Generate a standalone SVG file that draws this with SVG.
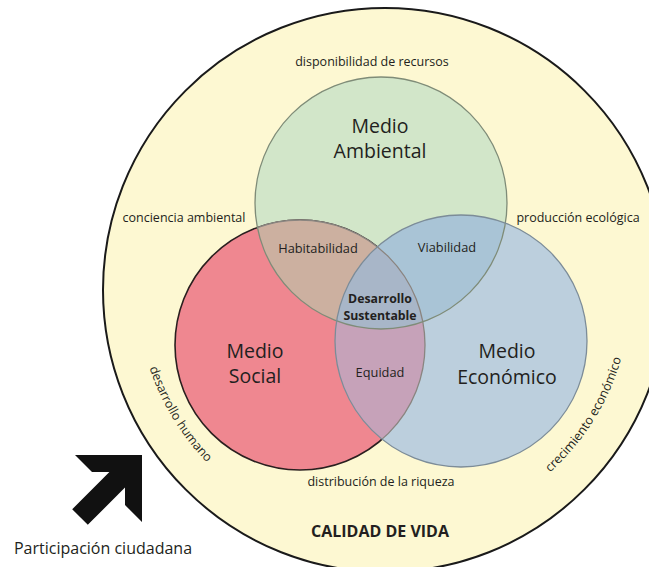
<svg xmlns="http://www.w3.org/2000/svg" width="649" height="567" viewBox="0 0 649 567">
<style>
text{font-family:"Open Sans","Noto Sans","Liberation Sans",sans-serif;fill:#231f20}
.s{font-size:12.5px}
.m{font-size:12.8px}
.big{font-size:19.5px}
.b{font-weight:bold;font-size:12.3px}
</style>
<defs>
<clipPath id="cG"><circle cx="381" cy="203" r="126"/></clipPath>
<clipPath id="cR"><circle cx="300" cy="345" r="125"/></clipPath>
<clipPath id="cB"><circle cx="461" cy="341" r="126"/></clipPath>
<clipPath id="cGB"><circle cx="381" cy="203" r="126"/><circle cx="461" cy="341" r="126"/></clipPath>
<path id="pHum" d="M137.9,311.6 A248,248 0 0 0 251.4,498.9"/>
<path id="pEco" d="M508,503 A246,246 0 0 0 630.4,307.2"/>
</defs>
<rect width="649" height="567" fill="#ffffff"/>
<g id="calidad-de-vida">
<circle cx="385" cy="290" r="282" fill="#fdf8d2" stroke="#1a1a1a" stroke-width="2"/>
<text class="s" x="372" y="66" text-anchor="middle">disponibilidad de recursos</text>
<text class="s" x="184" y="222" text-anchor="middle">conciencia ambiental</text>
<text class="s" x="578" y="222" text-anchor="middle">producción ecológica</text>
<text class="s" x="381" y="486" text-anchor="middle">distribución de la riqueza</text>
<text class="s"><textPath href="#pHum" startOffset="50%" text-anchor="middle">desarrollo humano</textPath></text>
<text class="s"><textPath href="#pEco" startOffset="50%" text-anchor="middle">crecimiento económico</textPath></text>
<text x="380" y="537" text-anchor="middle" font-size="16" font-weight="bold">CALIDAD DE VIDA</text>
</g>
<g id="medio-ambiental">
<circle cx="381" cy="203" r="126" fill="#d2e6c9"/>
</g>
<g id="medio-social">
<circle cx="300" cy="345" r="125" fill="#ef8790" stroke="#2a1f1f" stroke-width="1.6"/>
</g>
<g id="medio-economico">
<circle cx="461" cy="341" r="126" fill="#bccfdd"/>
</g>
<g id="intersecciones">
<g clip-path="url(#cG)"><circle cx="300" cy="345" r="125" fill="#ccb0a0"/></g>
<g clip-path="url(#cG)"><circle cx="461" cy="341" r="126" fill="#a9c4d6"/></g>
<g clip-path="url(#cR)"><circle cx="461" cy="341" r="126" fill="#c6a2b9"/></g>
<g clip-path="url(#cG)"><g clip-path="url(#cR)"><circle cx="461" cy="341" r="126" fill="#a8b6c8"/></g></g>
</g>
<g id="contornos" fill="none" stroke-width="1.3">
<circle cx="300" cy="345" r="125" stroke="#8a8580" clip-path="url(#cGB)"/>
<circle cx="381" cy="203" r="126" stroke="#7f8c78"/>
<circle cx="461" cy="341" r="126" stroke="#7c8c98"/>
</g>
<g id="etiquetas">
<text class="big" x="380" y="133" text-anchor="middle">Medio</text>
<text class="big" x="380" y="158" text-anchor="middle">Ambiental</text>
<text class="big" x="255" y="358" text-anchor="middle">Medio</text>
<text class="big" x="255" y="383" text-anchor="middle">Social</text>
<text class="big" x="507" y="358" text-anchor="middle">Medio</text>
<text class="big" x="507" y="384" text-anchor="middle">Económico</text>
<text class="m" x="318" y="253" text-anchor="middle">Habitabilidad</text>
<text class="m" x="447" y="252" text-anchor="middle">Viabilidad</text>
<text class="m" x="380" y="377" text-anchor="middle">Equidad</text>
<text class="b" x="380" y="303" text-anchor="middle">Desarrollo</text>
<text class="b" x="380" y="320" text-anchor="middle">Sustentable</text>
</g>
<g id="participacion">
<polygon points="142,455 142,522 125,505 125,487.6 87.8,524.8 72.2,509.2 109.4,472 92,472 75,455" fill="#111111"/>
<text x="103" y="554" text-anchor="middle" font-size="16">Participación ciudadana</text>
</g>
</svg>
